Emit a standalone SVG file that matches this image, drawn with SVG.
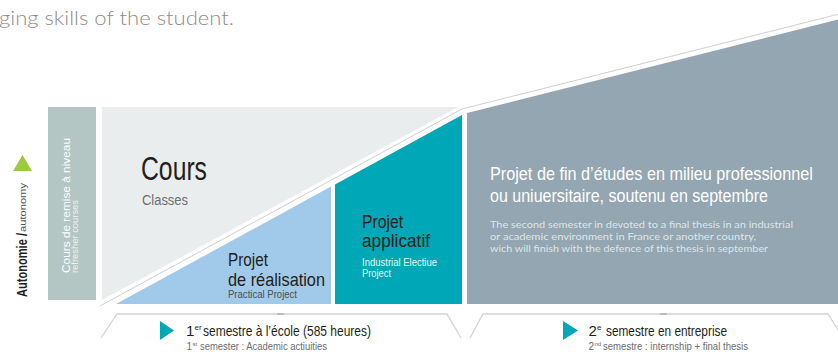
<svg xmlns="http://www.w3.org/2000/svg" width="838" height="354" viewBox="0 0 838 354">
<style>
.c{font-family:"Liberation Sans Narrow","Liberation Sans",Arial,sans-serif}
.g{font-family:Lato,"Liberation Sans",sans-serif;font-weight:300}
.dk{fill:#231f20}
.gr{fill:#6d6e70}
.wh{fill:#ffffff}
.para{font-family:Lato,"Liberation Sans",sans-serif;fill:#dfe5e9}
.thin{fill:none;stroke:#c9c9c9;stroke-width:0.9}
.br{fill:none;stroke:#d4d4d4;stroke-width:1.3}
</style>
<rect width="838" height="354" fill="#ffffff"/>
<text class="g" x="-1" y="25" font-size="20" fill="#8c8c8c" textLength="235" lengthAdjust="spacingAndGlyphs">ging skills of the student.</text>

<g id="autonomie">
<polygon points="13,171 32,171 22.5,155" fill="#9bcb3b"/>
<text class="c dk" transform="translate(26.5,297) rotate(-90)" font-size="15" font-weight="bold" textLength="64" lengthAdjust="spacingAndGlyphs">Autonomie /</text>
<text class="c" transform="translate(26,232) rotate(-90)" font-size="9" fill="#555" textLength="49" lengthAdjust="spacingAndGlyphs">autonomy</text>
</g>

<g id="remise">
<rect x="48" y="107" width="48" height="193" fill="#b3c6c3"/>
<text class="c wh" transform="translate(70,273) rotate(-90)" font-size="11.5" textLength="135" lengthAdjust="spacingAndGlyphs">Cours de remise à niveau</text>
<text class="c" transform="translate(78,273) rotate(-90)" font-size="8.5" fill="#eef3f2" textLength="73" lengthAdjust="spacingAndGlyphs">refresher courses</text>
</g>

<g id="cours">
<polygon points="102,107 458,107 102,300" fill="#e9eded"/>
<text class="c dk" x="141" y="180" font-size="34" textLength="66" lengthAdjust="spacingAndGlyphs">Cours</text>
<text class="c gr" x="142" y="205" font-size="14" textLength="46" lengthAdjust="spacingAndGlyphs">Classes</text>
</g>

<g id="realisation">
<polygon points="116,304 331,186.6 331,304" fill="#a0c9ea"/>
<text class="c dk" x="228" y="266" font-size="19" textLength="40" lengthAdjust="spacingAndGlyphs">Projet</text>
<text class="c dk" x="228" y="285.5" font-size="19" textLength="97" lengthAdjust="spacingAndGlyphs">de réalisation</text>
<text class="c" x="228" y="298" font-size="10" fill="#4f5052" textLength="69" lengthAdjust="spacingAndGlyphs">Practical Project</text>
</g>

<g id="applicatif">
<polygon points="335,184.4 462,115 462,304 335,304" fill="#00a7b6"/>
<text class="c dk" x="362" y="228" font-size="19" textLength="41" lengthAdjust="spacingAndGlyphs">Projet</text>
<text class="c dk" x="362" y="247" font-size="19" textLength="68" lengthAdjust="spacingAndGlyphs">applicatif</text>
<text class="c" x="362" y="266" font-size="11" fill="#e3f6f8" textLength="75" lengthAdjust="spacingAndGlyphs">Industrial Electiue</text>
<text class="c" x="362" y="277" font-size="11" fill="#e3f6f8" textLength="29" lengthAdjust="spacingAndGlyphs">Project</text>
</g>

<g id="fin-etudes">
<polygon points="467,113 838,19.5 838,304 467,304" fill="#93a6b2"/>
<text class="c wh" transform="translate(490,180) scale(0.854,1)" font-size="19" textLength="378" lengthAdjust="spacingAndGlyphs">Projet de fin d’études en milieu professionnel</text>
<text class="c wh" transform="translate(490,202) scale(0.854,1)" font-size="19" textLength="325.5" lengthAdjust="spacingAndGlyphs">ou uniuersitaire, soutenu en septembre</text>
<text class="para" x="490" y="228" font-size="9.5" textLength="303" lengthAdjust="spacingAndGlyphs">The second semester in devoted to a final thesis in an industrial</text>
<text class="para" x="490" y="240" font-size="9.5" textLength="266" lengthAdjust="spacingAndGlyphs">or academic environment in France or another country,</text>
<text class="para" x="490" y="252" font-size="9.5" textLength="278" lengthAdjust="spacingAndGlyphs">wich will finish with the defence of this thesis in september</text>
</g>

<g id="connectors">
<polyline class="thin" points="100,306 462,109 838,14.3"/>
<path class="br" d="M101,338 L117,314 L447,314 L461,338"/>
<path class="br" d="M470,338 L483,314 L828,314 L838,330"/>
<rect x="277" y="313" width="7" height="2" fill="#bdbdbd"/>
<rect x="660" y="313" width="7" height="2" fill="#bdbdbd"/>
</g>

<g id="semestre1">
<polygon points="160,321 160,340 174,330.5" fill="#00a7b6"/>
<text class="c dk" y="336" font-size="15"><tspan x="186">1</tspan><tspan x="194.5" y="330" font-size="8">er</tspan><tspan x="203" y="336" textLength="168" lengthAdjust="spacingAndGlyphs">semestre à l’école (585 heures)</tspan></text>
<text class="c gr" y="350" font-size="10"><tspan x="186.5">1</tspan><tspan x="192.5" y="346" font-size="6">st</tspan><tspan x="200" y="350" textLength="127" lengthAdjust="spacingAndGlyphs">semester : Academic actiuities</tspan></text>
</g>

<g id="semestre2">
<polygon points="563,321 563,340 578,330.5" fill="#00a7b6"/>
<text class="c dk" y="336" font-size="15"><tspan x="588.5">2</tspan><tspan x="597" y="330" font-size="8">e</tspan><tspan x="606" y="336" textLength="121" lengthAdjust="spacingAndGlyphs">semestre en entreprise</tspan></text>
<text class="c gr" y="350" font-size="10"><tspan x="588.5">2</tspan><tspan x="594.5" y="346" font-size="6">nd</tspan><tspan x="603" y="350" textLength="145" lengthAdjust="spacingAndGlyphs">semestre : internship + final thesis</tspan></text>
</g>
</svg>
